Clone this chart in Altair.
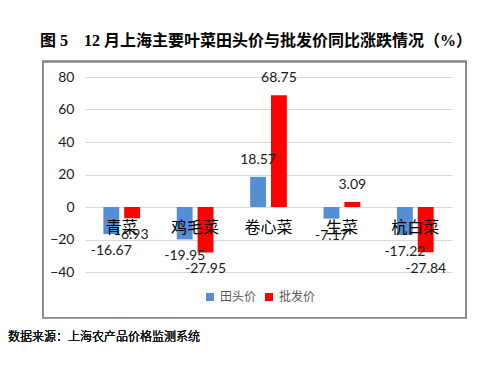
import altair as alt
import pandas as pd

categories = ["青菜", "鸡毛菜", "卷心菜", "生菜", "杭白菜"]
series_names = ["田头价", "批发价"]
farm_price = [-16.67, -19.95, 18.57, -7.17, -17.22]
wholesale_price = [-6.93, -27.95, 68.75, 3.09, -27.84]
y_ticks = [-40, -20, 0, 20, 40, 60, 80]
colors = ["#558ED5", "#FF0000"]

rows = []
for c, a, b in zip(categories, farm_price, wholesale_price):
    rows.append({"cat": c, "series": series_names[0], "value": a, "label": f"{a:.2f}"})
    rows.append({"cat": c, "series": series_names[1], "value": b, "label": f"{b:.2f}"})
df = pd.DataFrame(rows)
cat_df = pd.DataFrame({"cat": categories, "zero": [0] * len(categories)})

W, H = 367, 195
LAB = "#1a1a1a"

x_scale = alt.Scale(paddingInner=0.5, paddingOuter=0.25)
x_enc = alt.X("cat:N", sort=categories, axis=None, scale=x_scale)
xoff = alt.XOffset("series:N", sort=series_names,
                   scale=alt.Scale(paddingInner=0.238, paddingOuter=0))
y_scale = alt.Scale(domain=[-40, 80], nice=False, zero=False)
y_axis = alt.Axis(values=y_ticks, tickCount=7, grid=True, gridColor="#D9D9D9",
                  gridWidth=1, domain=False, ticks=False, tickSize=0,
                  labelPadding=11, labelFont="Lato", labelFontSize=14,
                  labelColor=LAB, labelOverlap=False, title=None)


def y_enc(field):
    return alt.Y(field, type="quantitative", scale=y_scale, axis=y_axis, title=None)


base = alt.Chart(df)

bars = base.mark_bar().encode(
    x=x_enc,
    xOffset=xoff,
    y=y_enc("value"),
    color=alt.Color("series:N", sort=series_names,
                    scale=alt.Scale(domain=series_names, range=colors),
                    legend=alt.Legend(title=None, orient="none", direction="horizontal",
                                      legendX=119, legendY=214, symbolType="square",
                                      symbolSize=64, symbolStrokeWidth=0,
                                      labelFont="Noto Sans CJK SC", labelFontSize=12,
                                      labelColor="#595959", labelOffset=4,
                                      columnPadding=6, padding=0)),
)

cat_labels = alt.Chart(cat_df).mark_text(
    baseline="middle", align="center", dy=21, font="Noto Sans CJK SC",
    fontSize=16, color="black"
).encode(
    x=x_enc,
    y=y_enc("zero"),
    text="cat:N",
)

pos_labels = base.transform_filter(alt.datum.value >= 0).mark_text(
    baseline="middle", align="center", dy=-17, font="Lato", fontSize=14, color=LAB
).encode(x=x_enc, xOffset=xoff, y=y_enc("value"), text="label:N")

neg_labels = base.transform_filter(alt.datum.value < 0).mark_text(
    baseline="middle", align="center", dy=17, font="Lato", fontSize=14, color=LAB
).encode(x=x_enc, xOffset=xoff, y=y_enc("value"), text="label:N")

frame = alt.Chart(cat_df).mark_rect(fill="transparent", stroke="#868686", strokeWidth=1.3).encode(
    x=alt.value(-42.3), x2=alt.value(381.3), y=alt.value(-15.5), y2=alt.value(240.7)
)

source = alt.Chart(cat_df).mark_text(
    align="left", baseline="middle", font="Noto Sans CJK SC", fontSize=12,
    fontWeight=300, color="#111111",
    text="数据来源：上海农产品价格监测系统"
).encode(x=alt.value(-77), y=alt.value(260))

chart = alt.layer(bars, cat_labels, pos_labels, neg_labels, frame, source).properties(
    width=W, height=H,
    autosize=alt.AutoSizeParams(type="none"),
    padding={"left": 77, "top": 69, "right": 20, "bottom": 85},
    title=alt.TitleParams(
        text="图 5　12 月上海主要叶菜田头价与批发价同比涨跌情况（%）",
        anchor="middle", frame="group", dx=-12.5, offset=-4, baseline="bottom",
        font="Liberation Serif, Noto Sans CJK SC", fontSize=16, fontWeight="bold",
        color="black"),
).configure_view(stroke=None)

chart.save("out.html", embed_options={"renderer": "svg", "actions": False})
